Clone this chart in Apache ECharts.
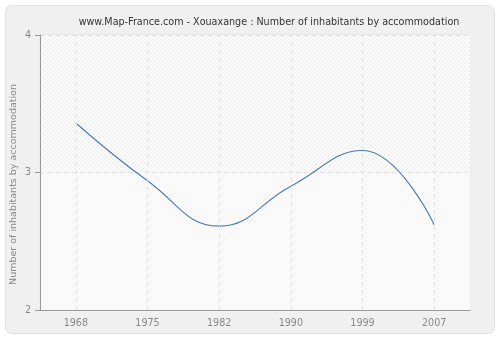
<!DOCTYPE html>
<html><head><meta charset="utf-8">
<script src="https://cdn.jsdelivr.net/npm/echarts@6/dist/echarts.min.js"></script>
<style>html,body{margin:0;padding:0;background:#fff}#c{width:500px;height:340px}</style>
</head><body><div id="c"></div>
<script>
var categories = ['1968', '1975', '1982', '1990', '1999', '2007'];
var values = [3.36, 2.94, 2.61, 2.90, 3.16, 2.62];
var yTicks = [2, 3, 4];

function hatch(bg, line) {
  var c = document.createElement('canvas');
  c.width = 4; c.height = 4;
  var g = c.getContext('2d');
  g.fillStyle = bg; g.fillRect(0, 0, 4, 4);
  g.strokeStyle = line; g.lineWidth = 1;
  g.beginPath();
  g.moveTo(0, 4); g.lineTo(4, 0);
  g.moveTo(-1, 1); g.lineTo(1, -1);
  g.moveTo(3, 5); g.lineTo(5, 3);
  g.stroke();
  return { image: c, repeat: 'repeat' };
}

var chart = echarts.init(document.getElementById('c'), null, { renderer: 'canvas' });
chart.setOption({
  animation: false,
  backgroundColor: '#ffffff',
  graphic: [{
    type: 'rect', z: -10, silent: true,
    shape: { x: 5.5, y: 5.5, width: 489, height: 328, r: 6 },
    style: { fill: '#f0f0f0', stroke: '#e2e2e2', lineWidth: 1 }
  }],
  title: {
    text: 'www.Map-France.com - Xouaxange : Number of inhabitants by accommodation',
    left: 264, top: 12, textAlign: 'center',
    textStyle: { fontFamily: 'DejaVu Sans', fontSize: 9.6, fontWeight: 'normal', color: '#333' }
  },
  grid: { left: 40, right: 30, top: 35, bottom: 30, outerBoundsMode: 'none', containLabel: false, show: true, backgroundColor: 'transparent', borderColor: '#e4e4e4', borderWidth: 1 },
  xAxis: {
    type: 'category', data: categories, boundaryGap: true,
    axisLine: { lineStyle: { color: '#999' } },
    axisTick: { alignWithLabel: true, length: 5, lineStyle: { color: '#999' } },
    axisLabel: { color: '#888', fontFamily: 'DejaVu Sans', fontSize: 9.6, margin: 8 },
    splitLine: { show: false }
  },
  yAxis: {
    type: 'value', min: yTicks[0], max: yTicks[yTicks.length - 1], interval: 1,
    name: 'Number of inhabitants by accommodation', nameLocation: 'middle', nameGap: 21,
    nameMoveOverlap: false,
    nameTextStyle: { color: '#888', fontFamily: 'DejaVu Sans', fontSize: 9.5, padding: [0, 24, 0, 0] },
    axisLine: { show: true, lineStyle: { color: '#999' } },
    axisTick: { show: true, length: 5, lineStyle: { color: '#999' } },
    axisLabel: { color: '#888', fontFamily: 'DejaVu Sans', fontSize: 9.6, margin: 9 },
    splitLine: { show: true, lineStyle: { color: '#e2e2e2', type: [4, 4] } },
    splitArea: { show: true, areaStyle: { color: [hatch('#fbfbfb', '#f3f3f3'), hatch('#fbfbfb', '#ececec')] } }
  },
  series: [{
    type: 'line', data: values, smooth: 0.45, symbol: 'none',
    lineStyle: { color: '#4a78b0', width: 1.1 },
    markLine: {
      silent: true, symbol: 'none', label: { show: false },
      lineStyle: { color: '#e2e2e2', type: [4, 4], width: 1 },
      data: categories.map(function (c) { return { xAxis: c }; })
    }
  }]
});
</script></body></html>
